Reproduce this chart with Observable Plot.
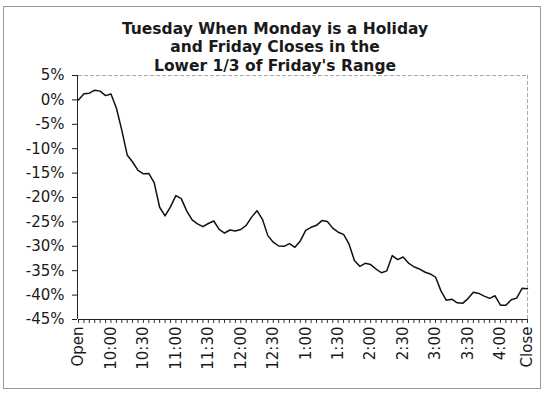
<!DOCTYPE html>
<html>
<head>
<meta charset="utf-8">
<script src="https://cdn.jsdelivr.net/npm/d3@7"></script>
<script src="https://cdn.jsdelivr.net/npm/@observablehq/plot@0.6"></script>
<style>
  html, body { margin: 0; padding: 0; background: #fff; }
</style>
</head>
<body>
<div id="chart"></div>
<script>
const titleLines = [
  "Tuesday When Monday is a Holiday",
  "and Friday Closes in the",
  "Lower 1/3 of Friday's Range"
];

// percent change from the open, one value per 5-minute bar
const values = [
  0.0, 1.25, 1.37, 1.99, 1.80, 0.88, 1.21, -1.66, -6.19, -11.28,
  -12.72, -14.46, -15.14, -15.07, -17.0, -22.0, -23.77, -21.92, -19.61, -20.24,
  -22.74, -24.59, -25.39, -25.98, -25.33, -24.82, -26.54, -27.28, -26.66, -26.87,
  -26.56, -25.70, -24.02, -22.70, -24.47, -27.81, -29.16, -29.94, -30.00, -29.45,
  -30.21, -28.90, -26.74, -26.11, -25.70, -24.73, -24.90, -26.27, -27.11, -27.56,
  -29.51, -32.90, -34.11, -33.49, -33.74, -34.66, -35.42, -35.03, -31.91, -32.73,
  -32.20, -33.43, -34.19, -34.64, -35.27, -35.66, -36.30, -39.13, -41.06, -40.83,
  -41.57, -41.69, -40.71, -39.40, -39.66, -40.20, -40.67, -40.14, -42.06, -42.10,
  -40.96, -40.62, -38.60, -38.70
];

const tickIndex = [0, 6, 12, 18, 24, 30, 36, 42, 48, 54, 60, 66, 72, 78, 83];
const tickLabels = ["Open", "10:00", "10:30", "11:00", "11:30", "12:00", "12:30",
  "1:00", "1:30", "2:00", "2:30", "3:00", "3:30", "4:00", "Close"];
const yTicks = [5, 0, -5, -10, -15, -20, -25, -30, -35, -40, -45];

const data = values.map((v, i) => ({i, v}));
const labelOf = new Map(tickIndex.map((t, k) => [t, tickLabels[k]]));
const font = "'DejaVu Sans', Verdana, sans-serif";

const chart = Plot.plot({
  width: 550,
  height: 396,
  marginLeft: 78,
  marginRight: 23,
  marginTop: 75,
  marginBottom: 77,
  style: {fontFamily: font, fontSize: "15px", color: "#1a1a1a", background: "#fff"},
  x: {domain: [0, values.length - 1], label: null},
  y: {domain: [-45, 5], label: null},
  marks: [
    // outer chart border
    Plot.frame({stroke: "#9a9a9a", strokeWidth: 1, insetLeft: -75, insetRight: -13, insetTop: -69, insetBottom: -69}),
    // plot area border (top & right, dashed grey)
    Plot.ruleY([5], {stroke: "#aaa", strokeDasharray: "4,2"}),
    Plot.ruleX([values.length - 1], {stroke: "#aaa", strokeDasharray: "4,2"}),
    // title
    Plot.text([titleLines.join("\n")], {
      frameAnchor: "top", lineAnchor: "top", dy: -55, dx: -28,
      lineHeight: 1.2, fontSize: 15.5, fontWeight: "bold", fill: "#1a1a1a"
    }),
    // minor ticks at every bar
    Plot.axisX(d3.range(values.length), {tickSize: 4, tickFormat: () => "", stroke: "#333", label: null}),
    // labelled ticks
    Plot.axisX(tickIndex, {
      tickSize: 0, tickPadding: 7, tickRotate: -90, label: null,
      tickFormat: i => labelOf.get(i), fontSize: 15, fill: "#1a1a1a"
    }),
    Plot.axisY(yTicks, {
      tickSize: 5, tickPadding: 8, tickFormat: d => d + "%", label: null,
      fontSize: 15, fill: "#1a1a1a", dx: -1
    }),
    Plot.ruleX([0], {stroke: "#222", dx: -1}),
    Plot.ruleY([-45], {stroke: "#222"}),
    Plot.lineY(data, {x: "i", y: "v", stroke: "#111", strokeWidth: 1.5})
  ]
});

document.getElementById("chart").append(chart);
</script>
</body>
</html>
